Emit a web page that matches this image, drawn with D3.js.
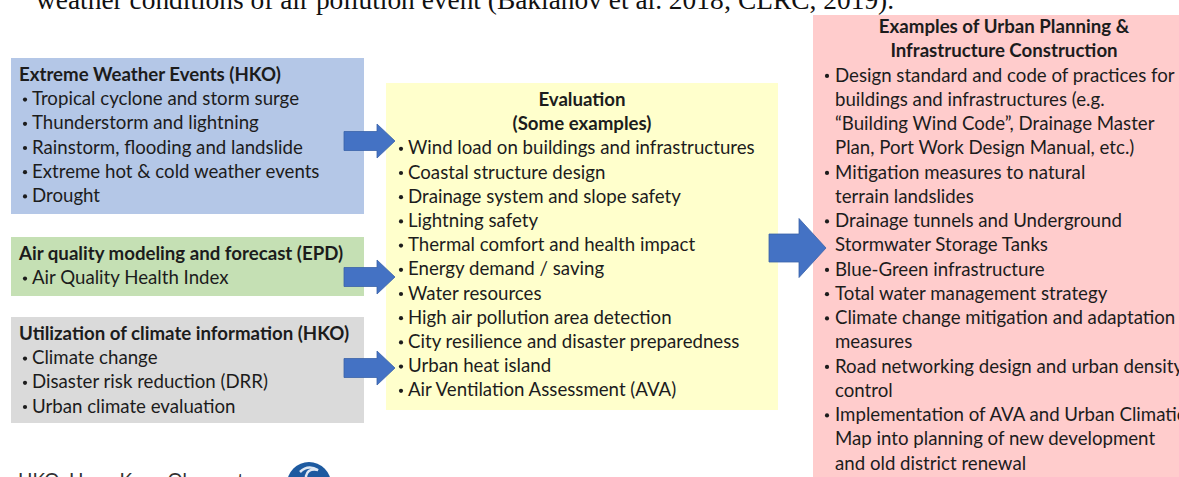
<!DOCTYPE html>
<html>
<head>
<meta charset="utf-8">
<script src="https://cdn.jsdelivr.net/npm/d3@7"></script>
<style>
  body { margin: 0; background: #fff; overflow: hidden; }
  svg { display: block; }
</style>
</head>
<body>
<svg id="chart" width="1179" height="477"></svg>
<script>
// ---- content ----
var topLine = "weather conditions of air pollution event (Baklanov et al. 2018; CLRC, 2019).";

var hazardTitle = "Extreme Weather Events (HKO)";
var hazardItems = ["Tropical cyclone and storm surge", "Thunderstorm and lightning",
  "Rainstorm, flooding and landslide", "Extreme hot & cold weather events", "Drought"];

var airTitle = "Air quality modeling and forecast (EPD)";
var airItems = ["Air Quality Health Index"];

var climateTitle = "Utilization of climate information (HKO)";
var climateItems = ["Climate change", "Disaster risk reduction (DRR)", "Urban climate evaluation"];

var evalTitle = ["Evaluation", "(Some examples)"];
var evalItems = ["Wind load on buildings and infrastructures", "Coastal structure design",
  "Drainage system and slope safety", "Lightning safety", "Thermal comfort and health impact",
  "Energy demand / saving", "Water resources", "High air pollution area detection",
  "City resilience and disaster preparedness", "Urban heat island", "Air Ventilation Assessment (AVA)"];

var planTitle = ["Examples of Urban Planning &", "Infrastructure Construction"];
var planItems = [
  ["Design standard and code of practices for", "buildings and infrastructures (e.g.",
   "\u201cBuilding Wind Code\u201d, Drainage Master", "Plan, Port Work Design Manual, etc.)"],
  ["Mitigation measures to natural", "terrain landslides"],
  ["Drainage tunnels and Underground", "Stormwater Storage Tanks"],
  ["Blue-Green infrastructure"],
  ["Total water management strategy"],
  ["Climate change mitigation and adaptation", "measures"],
  ["Road networking design and urban density", "control"],
  ["Implementation of AVA and Urban Climatic", "Map into planning of new development", "and old district renewal"]
];

var footer = "HKO: Hong Kong Observatory";

// ---- drawing ----
var svg = d3.select("#chart");
var FONT = "Lato, 'Open Sans', sans-serif";
var ink = "#1c1c1c";
var arrowFill = "#4472c4";

// fit body font so the longest evaluation line spans ~347px (as in the source)
var probe = svg.append("text").style("font-family", FONT).style("font-size", "18px").text(evalItems[0]);
var fs = 18 * 347 / probe.node().getComputedTextLength();
probe.remove();
fs = Math.min(fs, 19);

// top cut-off sentence
svg.append("text")
  .attr("x", 36).attr("y", 9)
  .style("font-family", "'Liberation Serif', 'Times New Roman', serif")
  .style("font-size", "27.4px").style("fill", "#111")
  .text(topLine);

function box(x, y, w, h, fill) {
  svg.append("rect").attr("x", x).attr("y", y).attr("width", w).attr("height", h).attr("fill", fill);
}

// line index -> baseline
function lines(y0, step) {
  return d3.scaleLinear().domain([0, 1]).range([y0, y0 + step]);
}

function bulletList(items, yScale, bx, tx, startIdx) {
  var idx = startIdx;
  items.forEach(function(it) {
    var parts = Array.isArray(it) ? it : [it];
    parts.forEach(function(p, j) {
      if (j === 0) {
        svg.append("circle").attr("cx", bx).attr("cy", yScale(idx) - fs * 0.3)
          .attr("r", 2.1).attr("fill", ink);
      }
      svg.append("text").attr("x", tx).attr("y", yScale(idx))
        .style("font-family", FONT).style("font-size", fs + "px").style("fill", ink)
        .text(p);
      idx++;
    });
  });
}

function title(txt, x, y, anchor) {
  svg.append("text").attr("x", x).attr("y", y).attr("text-anchor", anchor || "start")
    .style("font-family", FONT).style("font-size", fs + "px").style("font-weight", "bold").style("fill", ink)
    .text(txt);
}

// left boxes
box(11, 58, 353, 156, "#b4c7e7");
var yH = lines(81, 24.2);
title(hazardTitle, 19, yH(0));
bulletList(hazardItems, yH, 25, 32, 1);

box(11, 237, 353, 59, "#c5e0b4");
var yA = lines(260, 24.2);
title(airTitle, 19, yA(0));
bulletList(airItems, yA, 25, 32, 1);

box(11, 317, 353, 106, "#dadada");
var yC = lines(340, 24.2);
title(climateTitle, 19, yC(0));
bulletList(climateItems, yC, 25, 32, 1);

// evaluation box
box(386, 83, 392, 327, "#ffffcc");
var yE = lines(106, 24.2);
evalTitle.forEach(function(t, i) { title(t, 582, yE(i), "middle"); });
bulletList(evalItems, yE, 401, 408, 2);

// planning box
box(813, 15, 390, 470, "#ffcccc");
var yP = lines(33, 24.25);
planTitle.forEach(function(t, i) { title(t, 1004, yP(i), "middle"); });
bulletList(planItems, yP, 827, 835, 2);

// arrows
function arrow(x0, xh, x1, cy, sh, hh) {
  var p = d3.path();
  p.moveTo(x0, cy - sh); p.lineTo(xh, cy - sh); p.lineTo(xh, cy - hh);
  p.lineTo(x1, cy); p.lineTo(xh, cy + hh); p.lineTo(xh, cy + sh);
  p.lineTo(x0, cy + sh); p.closePath();
  svg.append("path").attr("d", p.toString())
    .attr("fill", arrowFill).attr("stroke", "#3a62a8").attr("stroke-width", 0.8);
}
arrow(344, 377, 395, 141, 9.5, 17);
arrow(344, 377, 395, 277, 9.5, 17);
arrow(344, 377, 395, 368, 9.5, 17);
arrow(769, 799, 826, 248, 14, 29.5);

// footer (cut off at bottom)
svg.append("text").attr("x", 18).attr("y", 487)
  .style("font-family", FONT).style("font-size", "19px").style("fill", "#333")
  .text(footer);
svg.append("circle").attr("cx", 309).attr("cy", 484).attr("r", 22).attr("fill", "#1d5aa0");
svg.append("path").attr("d", "M300,472 q8,-8 18,-2 q-10,-2 -12,6 q0,6 8,8")
  .attr("fill", "none").attr("stroke", "#dfe8f3").attr("stroke-width", 2.5);
</script>
</body>
</html>
